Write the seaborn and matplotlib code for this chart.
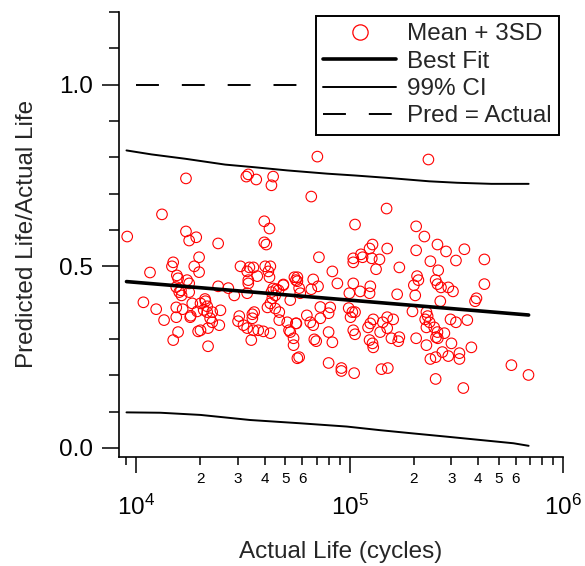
import numpy as np
import pandas as pd
import matplotlib
matplotlib.use('Agg')
import matplotlib.pyplot as plt
from matplotlib.lines import Line2D
from matplotlib.ticker import FixedLocator, MultipleLocator, FuncFormatter
import seaborn as sns

sns.set_style('ticks')
plt.rcParams['font.family'] = ['Liberation Sans', 'DejaVu Sans']
plt.rcParams['mathtext.fontset'] = 'custom'
plt.rcParams['mathtext.rm'] = 'Liberation Sans'
plt.rcParams['lines.scale_dashes'] = False

# scatter: actual life (cycles) vs predicted/actual (mean + 3SD)
actual_life = [
    9.07e3, 1.08e4, 1.16e4, 1.24e4, 1.32e4, 1.35e4, 1.49e4, 1.47e4, 1.55e4, 1.57e4,
    1.49e4, 1.57e4, 1.54e4, 1.54e4, 1.59e4, 1.63e4, 1.65e4,
    1.71e4, 1.71e4, 1.77e4, 1.91e4, 1.73e4, 1.77e4, 1.77e4, 1.79e4, 1.83e4, 1.93e4,
    2.0e4, 2.11e4, 2.15e4, 2.15e4, 2.27e4, 2.22e4, 2.27e4, 2.45e4, 2.48e4, 2.17e4,
    1.95e4, 2.0e4, 2.17e4, 1.97e4, 1.87e4, 1.97e4, 2.42e4, 2.42e4, 2.70e4,
    1.54e4, 1.62e4, 2.1e4, 2.07e4, 1.80e4,
    2.88e4, 3.31e4, 3.35e4, 3.04e4, 3.0e4, 3.18e4, 3.31e4, 3.50e4, 3.57e4, 3.50e4,
    3.54e4, 3.73e4, 3.94e4, 3.46e4, 4.25e4, 4.12e4, 4.25e4, 4.34e4, 4.48e4, 4.68e4,
    4.68e4, 3.28e4, 3.35e4, 3.65e4, 4.38e4, 4.30e4, 3.98e4, 4.21e4, 3.98e4, 4.07e4,
    3.39e4, 3.54e4, 3.69e4, 3.31e4, 4.02e4, 4.25e4, 4.16e4, 4.21e4, 4.53e4, 4.30e4,
    4.89e4, 3.08e4, 3.35e4, 4.38e4, 4.64e4, 4.48e4, 5.8e4,
    5.69e4, 5.6e4, 5.51e4, 5.69e4, 4.89e4, 5.1e4, 5.2e4, 5.46e4, 5.46e4, 5.69e4,
    5.8e4, 5.63e4, 5.27e4, 5.6e4, 6.61e4, 7.06e4, 5.87e4, 6.61e4, 6.75e4, 7.11e4,
    7.18e4, 6.54e4, 6.75e4, 6.83e4, 6.97e4, 7.29e4, 7.97e4, 8.11e4, 7.97e4, 8.3e4,
    8.3e4, 7.97e4, 9.15e4, 9.15e4, 8.76e4, 5.27e4, 6.3e4, 7.29e4,
    1.04e5, 1.04e5, 1.06e5, 1.13e5, 1.15e5, 1.24e5, 1.28e5, 1.27e5, 1.38e5, 1.33e5,
    1.50e5, 1.49e5, 1.04e5, 9.97e4, 1.12e5, 1.24e5, 1.25e5, 1.67e5, 1.71e5, 1.01e5,
    1.03e5, 1.06e5, 9.9e4, 1.04e5, 1.06e5, 1.05e5, 1.24e5, 1.29e5, 1.28e5, 1.39e5,
    1.50e5, 1.57e5, 1.71e5, 1.69e5, 1.6e5, 1.43e5, 1.50e5, 1.25e5, 1.22e5, 1.29e5,
    1.41e5, 1.51e5,
    2.05e5, 2.24e5, 2.34e5, 2.58e5, 2.83e5, 3.45e5, 2.05e5, 2.39e5, 3.15e5, 2.60e5,
    2.07e5, 2.10e5, 2.0e5, 2.53e5, 2.58e5, 2.68e5, 2.90e5, 3.05e5, 2.03e5, 1.97e5,
    2.29e5, 2.32e5, 2.26e5, 2.37e5, 2.29e5, 2.49e5, 2.58e5, 2.78e5, 2.54e5, 2.59e5,
    2.66e5, 2.97e5, 3.15e5, 3.56e5, 3.0e5, 3.72e5, 2.05e5, 2.29e5, 2.39e5, 2.53e5,
    2.72e5, 2.90e5, 3.27e5, 3.27e5, 2.53e5, 3.41e5, 3.93e5, 3.87e5, 4.28e5, 4.28e5,
    5.73e5, 6.89e5,
]
pred_ratio = [
    0.582, 0.401, 0.483, 0.382, 0.643, 0.352, 0.511, 0.500, 0.475, 0.467,
    0.297, 0.319, 0.360, 0.387, 0.429, 0.420, 0.382,
    0.742, 0.596, 0.571, 0.580, 0.462, 0.429, 0.453, 0.360, 0.398, 0.376,
    0.398, 0.404, 0.390, 0.374, 0.374, 0.357, 0.346, 0.338, 0.379, 0.330,
    0.321, 0.324, 0.280, 0.525, 0.500, 0.484, 0.563, 0.445, 0.440,
    0.443, 0.434, 0.410, 0.380, 0.364,
    0.420, 0.426, 0.453, 0.363, 0.349, 0.338, 0.330, 0.368, 0.374, 0.357,
    0.324, 0.324, 0.321, 0.297, 0.316, 0.387, 0.398, 0.412, 0.420, 0.374,
    0.352, 0.747, 0.753, 0.739, 0.747, 0.723, 0.624, 0.604, 0.566, 0.560,
    0.497, 0.497, 0.473, 0.486, 0.500, 0.500, 0.486, 0.470, 0.437, 0.429,
    0.450, 0.500, 0.462, 0.439, 0.434, 0.384, 0.440,
    0.470, 0.462, 0.470, 0.459, 0.448, 0.346, 0.324, 0.302, 0.283, 0.247,
    0.250, 0.343, 0.319, 0.343, 0.692, 0.802, 0.426, 0.437, 0.464, 0.445,
    0.525, 0.346, 0.338, 0.299, 0.294, 0.357, 0.371, 0.387, 0.319, 0.291,
    0.486, 0.234, 0.220, 0.212, 0.453, 0.407, 0.365, 0.388,
    0.522, 0.511, 0.615, 0.533, 0.525, 0.549, 0.560, 0.522, 0.519, 0.492,
    0.549, 0.659, 0.453, 0.426, 0.431, 0.426, 0.445, 0.423, 0.497, 0.360,
    0.374, 0.374, 0.385, 0.324, 0.313, 0.206, 0.297, 0.277, 0.288, 0.319,
    0.330, 0.302, 0.305, 0.294, 0.354, 0.346, 0.360, 0.343, 0.332, 0.354,
    0.217, 0.220,
    0.610, 0.582, 0.794, 0.560, 0.541, 0.547, 0.544, 0.514, 0.516, 0.489,
    0.473, 0.462, 0.448, 0.462, 0.451, 0.442, 0.442, 0.431, 0.420, 0.376,
    0.374, 0.363, 0.354, 0.346, 0.332, 0.332, 0.319, 0.316, 0.305, 0.302,
    0.404, 0.354, 0.346, 0.352, 0.288, 0.277, 0.302, 0.283, 0.245, 0.250,
    0.264, 0.253, 0.261, 0.245, 0.190, 0.165, 0.412, 0.404, 0.451, 0.519,
    0.228, 0.201,
]

# best fit line
fit_x = [9.0e3, 6.9e5]
fit_y = [0.458, 0.366]

# 99% confidence bounds
ci_hi_x = [9.0e3, 1.18e4, 1.70e4, 2.61e4, 3.54e4, 5.1e4, 7.86e4, 1.06e5, 1.54e5,
           2.36e5, 3.19e5, 4.62e5, 6.9e5]
ci_hi_y = [0.819, 0.808, 0.796, 0.780, 0.773, 0.764, 0.755, 0.750, 0.743,
           0.734, 0.730, 0.727, 0.727]
ci_lo_x = [9.0e3, 1.30e4, 2.0e4, 3.42e4, 5.87e4, 9.7e4, 1.39e5, 1.99e5, 2.87e5,
           4.10e5, 5.86e5, 6.9e5]
ci_lo_y = [0.098, 0.097, 0.091, 0.077, 0.068, 0.059, 0.049, 0.040, 0.031,
           0.022, 0.013, 0.006]

# pred = actual reference
ref_x = [1.0e4, 7.0e5]
ref_y = [1.0, 1.0]

df = pd.DataFrame({'actual': actual_life, 'ratio': pred_ratio})

fig = plt.figure(figsize=(5.85, 5.66), dpi=100)
ax = fig.add_axes([0.2034, 0.1931, 0.7590, 0.7857])
ax.set_xscale('log')

sns.scatterplot(data=df, x='actual', y='ratio', ax=ax, marker='o',
                facecolor='none', edgecolor='red', linewidth=0.8, s=58, zorder=3)
sns.lineplot(x=fit_x, y=fit_y, ax=ax, color='black', lw=2.6,
             estimator=None, sort=False, zorder=4)
sns.lineplot(x=ci_hi_x, y=ci_hi_y, ax=ax, color='black', lw=1.4,
             estimator=None, sort=False, zorder=4)
sns.lineplot(x=ci_lo_x, y=ci_lo_y, ax=ax, color='black', lw=1.4,
             estimator=None, sort=False, zorder=4)
sns.lineplot(x=ref_x, y=ref_y, ax=ax, color='black', lw=1.4,
             ls=(0, (16.5, 16.5)), estimator=None, sort=False, zorder=2)

ax.set_xlim(8.3e3, 1.0e6)
ax.set_ylim(-0.024, 1.2)
sns.despine(ax=ax)
for s in ('left', 'bottom'):
    ax.spines[s].set_linewidth(1.2)
    ax.spines[s].set_color('black')

ax.yaxis.set_major_locator(FixedLocator([0.0, 0.5, 1.0]))
ax.yaxis.set_minor_locator(MultipleLocator(0.1))
ax.yaxis.set_major_formatter(FuncFormatter(lambda v, p: f'{v:.1f}'))

majors = [1e4, 1e5, 1e6]
minors = [m * d for d in (1e3, 1e4, 1e5) for m in range(2, 10)]
ax.xaxis.set_major_locator(FixedLocator(majors))
ax.xaxis.set_minor_locator(FixedLocator(minors))


def major_fmt(v, pos):
    return '$\\mathregular{10^{%d}}$' % int(round(np.log10(v)))


def minor_fmt(v, pos):
    m = int(round(v / 10 ** np.floor(np.log10(v) + 1e-9)))
    return str(m) if 2 <= m <= 6 else ''


ax.xaxis.set_major_formatter(FuncFormatter(major_fmt))
ax.xaxis.set_minor_formatter(FuncFormatter(minor_fmt))

ax.tick_params(axis='both', which='both', direction='out', color='black',
               width=1.1, labelcolor='black')
ax.tick_params(axis='y', which='major', length=12.5, pad=6, labelsize=17.5)
ax.tick_params(axis='y', which='minor', length=7)
ax.tick_params(axis='x', which='major', length=11.5, pad=16, labelsize=17.5)
ax.tick_params(axis='x', which='minor', length=6, pad=5, labelsize=11)

ax.set_xlabel('Actual Life (cycles)', fontsize=17.5, labelpad=15)
ax.set_ylabel('Predicted Life/Actual Life', fontsize=17.5, labelpad=15)
ax.grid(False)

handles = [
    Line2D([], [], ls='none', marker='o', mfc='none', mec='red', ms=11, mew=0.9),
    Line2D([], [], color='black', lw=2.6),
    Line2D([], [], color='black', lw=1.4),
    Line2D([], [], color='black', lw=1.4, ls=(0, (16.5, 16.5))),
]
labels = ['Mean + 3SD', 'Best Fit', '99% CI', 'Pred = Actual']
leg = ax.legend(handles, labels, loc='upper right', bbox_to_anchor=(0.991, 0.991),
                borderaxespad=0, fontsize=17.5, frameon=True, fancybox=False,
                framealpha=1, edgecolor='black', handlelength=3.0,
                handletextpad=0.45, labelspacing=0.22, borderpad=0.3)
leg.get_frame().set_linewidth(1.4)

fig.savefig('out.png', dpi=100)
